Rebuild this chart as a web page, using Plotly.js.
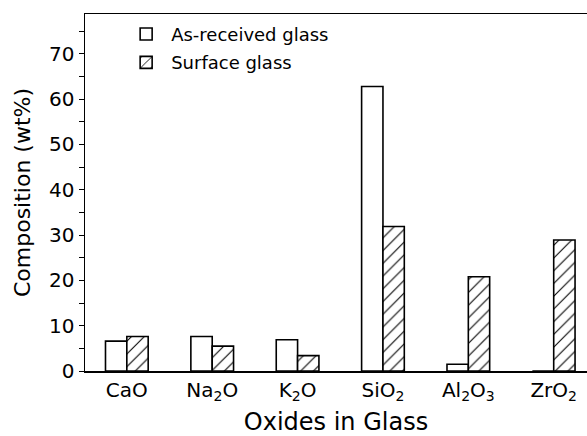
<!DOCTYPE html>
<html><head><meta charset="utf-8">
<script src="https://cdn.plot.ly/plotly-3.0.1.min.js"></script>
<style>html,body{margin:0;padding:0;background:#fff}#c{width:587px;height:436px}</style>
</head><body><div id="c"></div>
<script>
const categories = ["CaO", "Na<sub>2</sub>O", "K<sub>2</sub>O", "SiO<sub>2</sub>", "Al<sub>2</sub>O<sub>3</sub>", "ZrO<sub>2</sub>"];
const asReceived = [6.6, 7.6, 6.9, 62.8, 1.5, 0];
const surface = [7.6, 5.5, 3.4, 31.9, 20.8, 28.9];
const seriesNames = ["As-received glass", "Surface glass"];

const idx = categories.map((_, i) => i);
const font = "DejaVu Sans, Verdana, sans-serif";

const traces = [
  {type: "bar", x: idx, y: asReceived, name: seriesNames[0], legendgroup: "a",
   marker: {color: "#ffffff", line: {color: "#000000", width: 1.6}}},
  {type: "bar", x: idx, y: surface, name: seriesNames[1], legendgroup: "b",
   marker: {color: "#ffffff", line: {color: "#000000", width: 1.6},
            pattern: {shape: "/", fgcolor: "#000000", bgcolor: "#ffffff", size: 9, solidity: 0.12}}}
];

const layout = {
  width: 587, height: 436,
  margin: {l: 85, r: 0, t: 14, b: 65},
  paper_bgcolor: "#fff", plot_bgcolor: "#fff",
  barmode: "group", bargap: 0.5, bargroupgap: 0,
  showlegend: true,
  legend: {x: 0.072, y: 0.995, xanchor: "left", yanchor: "top", bgcolor: "rgba(0,0,0,0)",
           itemwidth: 40, traceorder: "grouped", tracegroupgap: 2,
           font: {family: font, size: 18, color: "#000"}},
  xaxis: {range: [-0.49, 5.39], tickvals: idx, ticktext: categories,
          showgrid: false, zeroline: false, showline: true, linecolor: "#000", linewidth: 1.5,
          mirror: true, ticks: "", tickfont: {family: font, size: 20, color: "#000"},
          title: {text: "Oxides in Glass", font: {family: font, size: 24, color: "#000"}, standoff: 14}},
  yaxis: {range: [0, 78.8], tickvals: [0, 10, 20, 30, 40, 50, 60, 70],
          showgrid: false, zeroline: false, showline: true, linecolor: "#000", linewidth: 1.5,
          ticks: "outside", ticklen: 5, tickwidth: 1, tickcolor: "#000",
          minor: {tickvals: [5, 15, 25, 35, 45, 55, 65, 75], ticks: "outside", ticklen: 5, tickcolor: "#000", tickwidth: 1},
          tickfont: {family: font, size: 20, color: "#000"},
          title: {text: "Composition (wt%)", font: {family: font, size: 22, color: "#000"}, standoff: 12}}
};

Plotly.newPlot("c", traces, layout, {displayModeBar: false, staticPlot: true});
</script></body></html>
